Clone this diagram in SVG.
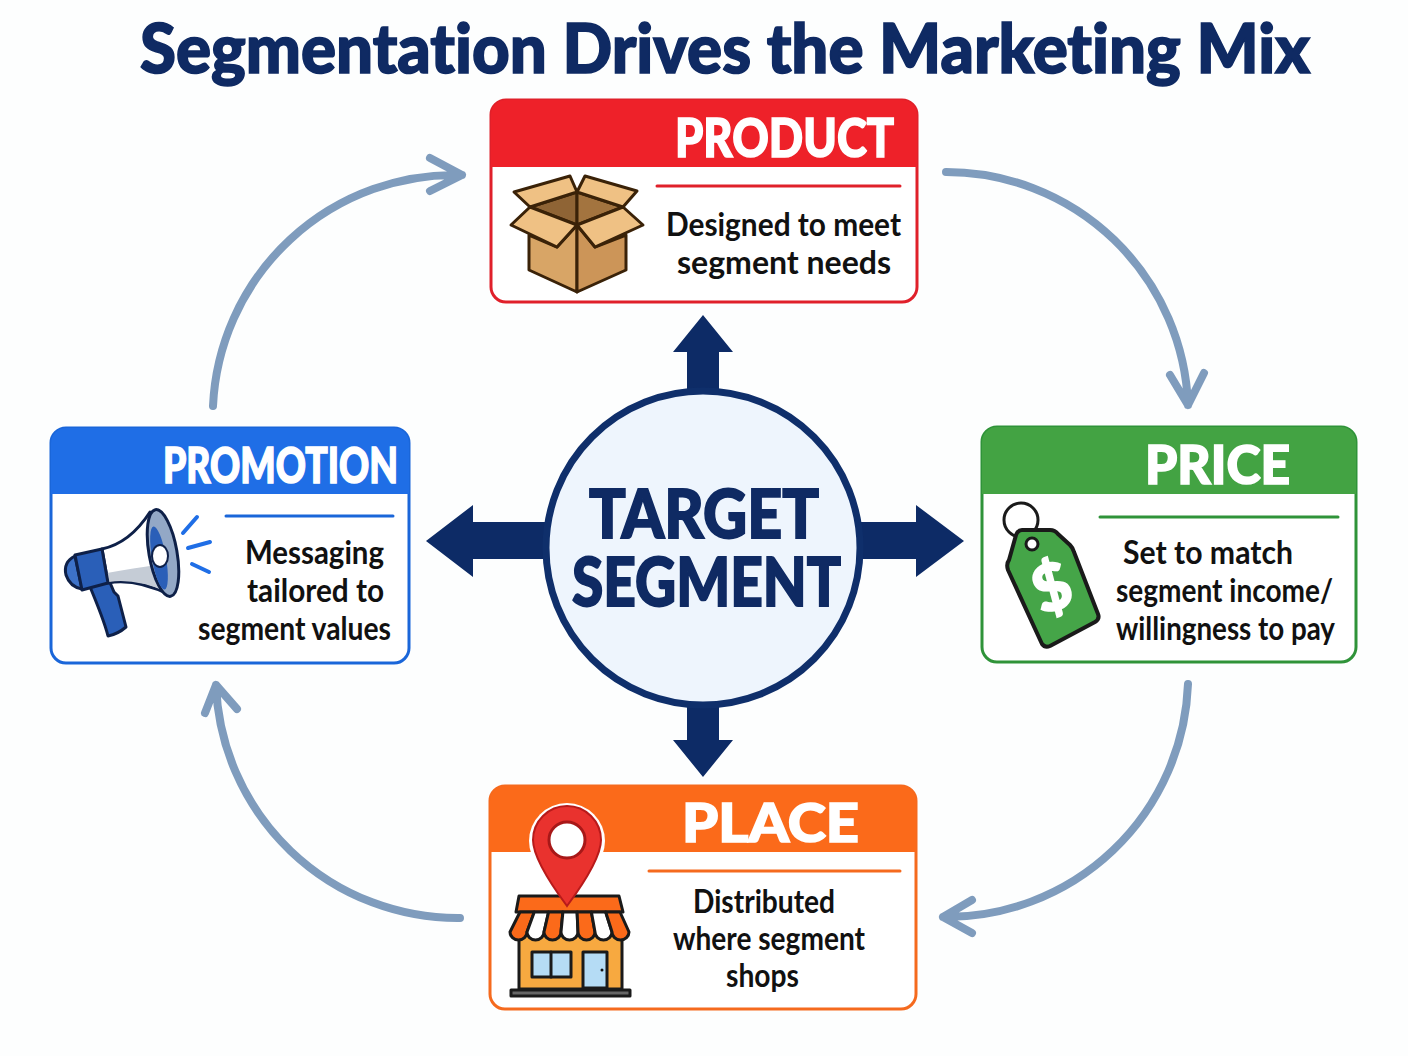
<svg xmlns="http://www.w3.org/2000/svg" width="1408" height="1056" viewBox="0 0 1408 1056">
<style>
text{font-family:Lato,"Noto Sans","Liberation Sans",sans-serif;font-variant-ligatures:none}
.title{font-size:68px;font-weight:900;fill:#0f2a63;stroke:#0f2a63;stroke-width:1.6}
.hd{font-size:54px;font-weight:900;fill:#fff;stroke:#fff;stroke-width:1.6}
.bd{font-size:32px;font-weight:700;fill:#111}
.ctr{font-size:67px;font-weight:900;fill:#0f2a63;stroke:#0f2a63;stroke-width:1.8}
.arc{fill:none;stroke:#7f9cbd;stroke-width:8;stroke-linecap:round;stroke-linejoin:round}
.hub{fill:#0d2b66}
.ol{stroke:#3a2208;stroke-width:3;stroke-linejoin:round;stroke-linecap:round}
.k{stroke:#1a1a1a;stroke-width:3;stroke-linejoin:round;stroke-linecap:round}
.nv{stroke:#0e2048;stroke-width:3;stroke-linejoin:round;stroke-linecap:round}
.rule{stroke-width:3;stroke-linecap:round;fill:none}
.or{fill:#fb6a1a}
.wh{fill:#fff}
</style>
<rect width="1408" height="1056" fill="#fdfefe"/>
<text id="title" class="title" x="140" y="73" textLength="1170" lengthAdjust="spacingAndGlyphs">Segmentation Drives the Marketing Mix</text>

<g id="connectors">
<path class="arc" d="M946 172A242 242 0 0 1 1188 405M1170 375L1188 405L1204 373"/>
<path class="arc" d="M1188 684A242 242 0 0 1 943 917M972 900L943 917L972 933"/>
<path class="arc" d="M460 918A242 242 0 0 1 216 685M205 713L216 685L237 709"/>
<path class="arc" d="M213 406A242 242 0 0 1 462 175M430 158L462 175L430 191"/>
<path class="hub" d="M703 315L733 352H719V395H687V352H673Z"/>
<path class="hub" d="M703 777L733 740H719V700H687V740H673Z"/>
<path class="hub" d="M426 541L473 505V522H550V559H473V577Z"/>
<path class="hub" d="M964 541L916 505V522H855V559H916V577Z"/>
</g>

<g id="center">
<circle cx="703" cy="548" r="157" fill="#eef5fd" stroke="#0f2f6b" stroke-width="7"/>
<text class="ctr" x="589" y="538" textLength="230" lengthAdjust="spacingAndGlyphs">TARGET</text>
<text class="ctr" x="572" y="606" textLength="269" lengthAdjust="spacingAndGlyphs">SEGMENT</text>
</g>

<g id="product">
<rect x="491" y="100" width="426" height="202" rx="15" fill="#fff" stroke="#e0202a" stroke-width="3"/>
<path d="M491 167V115a15 15 0 0 1 15-15H902a15 15 0 0 1 15 15V167Z" fill="#ee2129"/>
<text class="hd" x="675" y="157" textLength="219" lengthAdjust="spacingAndGlyphs">PRODUCT</text>
<path class="rule" stroke="#e0202a" d="M657 186H900"/>
<text class="bd" x="666" y="236" textLength="235" lengthAdjust="spacingAndGlyphs">Designed to meet</text>
<text class="bd" x="677" y="274" textLength="214" lengthAdjust="spacingAndGlyphs">segment needs</text>
<g id="box-icon">
<path class="ol" fill="#8f6435" d="M530 207L577 192V225Z"/>
<path class="ol" fill="#a3743f" d="M623 207L577 192V225Z"/>
<path class="ol" fill="#efc184" d="M530 207L514 192L570 176L577 192Z"/>
<path class="ol" fill="#efc184" d="M577 192L585 176L637 191L623 207Z"/>
<path class="ol" fill="#d8a566" d="M529 235V270L577 292V225L557 247Z"/>
<path class="ol" fill="#cc9558" d="M626 235V270L577 292V225L595 247Z"/>
<path class="ol" fill="#efc184" d="M530 207L511 225L557 247L577 225Z"/>
<path class="ol" fill="#efc184" d="M623 207L643 225L595 247L577 225Z"/>
</g>
</g>

<g id="promotion">
<rect x="51" y="428" width="358" height="235" rx="15" fill="#fff" stroke="#1a66d9" stroke-width="3"/>
<path d="M51 494V443a15 15 0 0 1 15-15H394a15 15 0 0 1 15 15V494Z" fill="#1f6ee6"/>
<text class="hd" style="font-size:50px" x="163" y="483" textLength="235" lengthAdjust="spacingAndGlyphs">PROMOTION</text>
<path class="rule" stroke="#1a66d9" d="M226 516H393"/>
<text class="bd" x="245" y="564" textLength="139" lengthAdjust="spacingAndGlyphs">Messaging</text>
<text class="bd" x="247" y="602" textLength="137" lengthAdjust="spacingAndGlyphs">tailored to</text>
<text class="bd" x="198" y="640" textLength="193" lengthAdjust="spacingAndGlyphs">segment values</text>
<g id="megaphone-icon">
<path class="nv" fill="#2a5fb8" d="M88 582L108 578L114 592L118 596L126 627Q118 634 108 636Q104 620 88 582Z"/>
<path class="nv" fill="#3d72c8" d="M75 556Q63 562 66 575Q70 587 82 589Z"/>
<path class="nv" fill="#fff" d="M102 549Q130 543 150 512L170 595Q135 578 108 583Z"/>
<path fill="#c5ccd6" d="M107 573Q135 568 156 565L167 592Q135 578 109 582Z"/>
<path class="nv" fill="#2a5fb8" d="M75 555L102 549L108 583L82 590Z"/>
<ellipse class="nv" cx="163" cy="553" rx="14" ry="44" fill="#93a8c6" transform="rotate(-10 163 553)"/>
<ellipse cx="159" cy="558" rx="7" ry="32" fill="#2a5fb8" transform="rotate(-10 159 558)"/>
<ellipse cx="160" cy="556" rx="8" ry="11" fill="#fff" stroke="#0e2048" stroke-width="2"/>
<path class="rule" stroke="#1f6ee6" d="M183 533L197 517M188 548L210 542M192 564L209 572" style="stroke-width:4"/>
</g>
</g>

<g id="price">
<rect x="982" y="427" width="374" height="235" rx="15" fill="#fff" stroke="#2f9339" stroke-width="3"/>
<path d="M982 494V442a15 15 0 0 1 15-15H1341a15 15 0 0 1 15 15V494Z" fill="#43a343"/>
<text class="hd" x="1145" y="484" textLength="145" lengthAdjust="spacingAndGlyphs">PRICE</text>
<path class="rule" stroke="#2f9339" d="M1100 517H1338"/>
<text class="bd" x="1123" y="564" textLength="170" lengthAdjust="spacingAndGlyphs">Set to match</text>
<text class="bd" x="1116" y="602" textLength="217" lengthAdjust="spacingAndGlyphs">segment income/</text>
<text class="bd" x="1116" y="640" textLength="219" lengthAdjust="spacingAndGlyphs">willingness to pay</text>
<g id="tag-icon">
<circle cx="1021" cy="520" r="17" fill="none" class="k"/>
<path class="k" style="stroke-width:4" fill="#45a548" d="M1022 530H1050Q1055 530 1058 534L1070 545Q1073 548 1074 552L1098 614Q1100 619 1095 622L1050 646Q1045 648 1042 644L1008 570Q1006 564 1009 560L1016 535Q1018 530 1022 530Z"/>
<circle class="k" cx="1032" cy="544" r="6" fill="#fff"/>
<text x="1052" y="610" text-anchor="middle" transform="rotate(-20 1052 588)" style="font-size:64px;font-weight:900;fill:#fff;stroke:#fff;stroke-width:2">$</text>
</g>
</g>

<g id="place">
<rect x="490" y="786" width="426" height="223" rx="15" fill="#fff" stroke="#f56a1e" stroke-width="3"/>
<path d="M490 852V801a15 15 0 0 1 15-15H901a15 15 0 0 1 15 15V852Z" fill="#fb6a1a"/>
<text class="hd" x="682" y="842" textLength="177" lengthAdjust="spacingAndGlyphs">PLACE</text>
<path class="rule" stroke="#f56a1e" d="M649 871H900"/>
<text class="bd" x="693" y="913" textLength="142" lengthAdjust="spacingAndGlyphs">Distributed</text>
<text class="bd" x="673" y="950" textLength="192" lengthAdjust="spacingAndGlyphs">where segment</text>
<text class="bd" x="726" y="987" textLength="73" lengthAdjust="spacingAndGlyphs">shops</text>
<g id="store-icon">
<rect class="k" x="519" y="930" width="103" height="59" fill="#f7a940"/>
<rect class="k" x="532" y="952" width="39" height="25" fill="#b5dcf5"/>
<path class="k" d="M551 952V977" fill="none"/>
<rect class="k" x="583" y="952" width="24" height="36" fill="#b5dcf5"/>
<circle cx="602" cy="970" r="1.5" fill="#111"/>
<rect class="k" x="511" y="990" width="119" height="6" fill="#666"/>
<path class="k" fill="#fb6a1a" d="M519 896H619L623 912H516Z"/>
<path class="k or" d="M520 912H534.3L527 932A8.5 8 0 0 1 510 932Z"/>
<path class="k wh" d="M534.3 912H548.6L544 932A8.5 8 0 0 1 527 932Z"/>
<path class="k or" d="M548.6 912H562.9L561 932A8.5 8 0 0 1 544 932Z"/>
<path class="k wh" d="M562.9 912H577.1L578 932A8.5 8 0 0 1 561 932Z"/>
<path class="k or" d="M577.1 912H591.4L595 932A8.5 8 0 0 1 578 932Z"/>
<path class="k wh" d="M591.4 912H605.7L612 932A8.5 8 0 0 1 595 932Z"/>
<path class="k or" d="M605.7 912H620L629 932A8.5 8 0 0 1 612 932Z"/>
<circle cx="567" cy="841" r="38" fill="#fff"/>
<path d="M567 806a34 34 0 0 1 34 34Q601 860 567 906Q533 860 533 840a34 34 0 0 1 34-34Z" fill="#e9322e" stroke="#b81a1a" stroke-width="2"/>
<circle cx="567" cy="840" r="18" fill="#fff" stroke="#a81818" stroke-width="3"/>
</g>
</g>
</svg>
